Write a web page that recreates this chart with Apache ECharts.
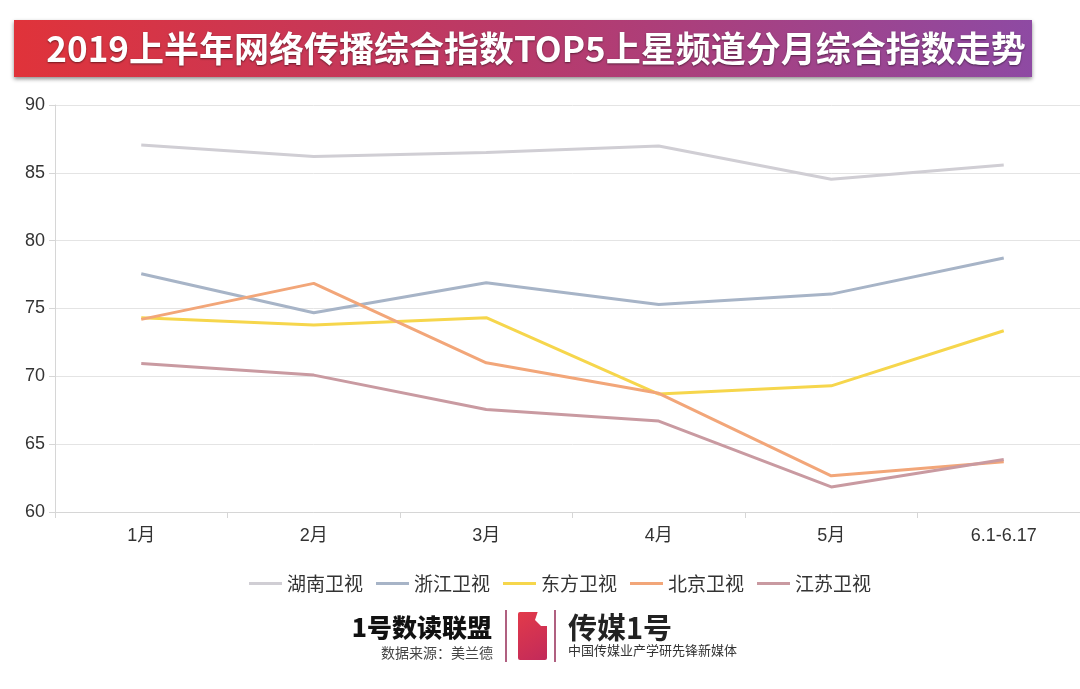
<!DOCTYPE html>
<html><head><meta charset="utf-8">
<script src="https://cdn.jsdelivr.net/npm/echarts@6/dist/echarts.min.js"></script>
<style>html,body{margin:0;padding:0;background:#fff;overflow:hidden;width:1080px;height:689px}#c{width:1100px;height:689px}</style>
</head><body><div id="c"></div>
<script>
const categories = ['1月','2月','3月','4月','5月','6.1-6.17'];
const yTicks = [60,65,70,75,80,85,90];
const hunan    = [87.05, 86.2, 86.5, 86.98, 84.52, 85.58];
const zhejiang = [77.56, 74.69, 76.9, 75.3, 76.06, 78.72];
const dongfang = [74.32, 73.78, 74.32, 68.69, 69.3, 73.36];
const beijing  = [74.2, 76.85, 71.0, 68.75, 62.67, 63.7];
const jiangsu  = [70.95, 70.09, 67.56, 66.7, 61.85, 63.87];
const seriesNames = ['湖南卫视','浙江卫视','东方卫视','北京卫视','江苏卫视'];
const seriesData = [hunan, zhejiang, dongfang, beijing, jiangsu];
const colors = ['#d0ced4','#a7b4c7','#f6d64c','#f2a679','#c99aa1'];

const font = '"Noto Sans CJK SC", "Noto Sans", sans-serif';
const labFont = '"Liberation Sans", "Noto Sans CJK SC", sans-serif';
const chart = echarts.init(document.getElementById('c'));
chart.setOption({
  backgroundColor: '#fff',
  animation: false,
  color: colors,
  textStyle: {fontFamily: font},
  grid: {left: 55, top: 105, right: 10, bottom: 177},
  legend: {
    top: 569, left: 244,
    icon: 'rect', itemWidth: 33, itemHeight: 3, itemGap: 13,
    textStyle: {fontSize: 19, color: '#333', fontFamily: font},
    data: seriesNames
  },
  xAxis: {
    type: 'category', data: categories, boundaryGap: true,
    axisLine: {lineStyle: {color: '#d6d6d6'}},
    axisTick: {show: true, length: 6, lineStyle: {color: '#d6d6d6'}},
    axisLabel: {fontSize: 18, color: '#333', margin: 15, fontFamily: labFont}
  },
  yAxis: {
    type: 'value', min: yTicks[0], max: yTicks[yTicks.length-1], interval: 5,
    axisLine: {show: true, lineStyle: {color: '#d6d6d6'}},
    axisTick: {show: true, length: 6, lineStyle: {color: '#d6d6d6'}},
    axisLabel: {fontSize: 18, color: '#333', margin: 10, fontFamily: labFont},
    splitLine: {lineStyle: {color: '#e4e4e4'}}
  },
  series: seriesNames.map((n, i) => ({
    name: n, type: 'line', data: seriesData[i], symbol: 'none',
    lineStyle: {width: 3, color: colors[i]}, itemStyle: {color: colors[i]}
  })),
  graphic: [
    {type: 'rect', shape: {x: 14, y: 20, width: 1018, height: 57},
     style: {fill: new echarts.graphic.LinearGradient(0,0,1,0,[{offset:0,color:'#e0333a'},{offset:0.5,color:'#b83a6a'},{offset:1,color:'#8e4aa3'}]),
             shadowBlur: 4, shadowOffsetY: 2, shadowColor: 'rgba(0,0,0,0.45)'}},
    {type: 'text', x: 536, y: 49,
     style: {text: '2019上半年网络传播综合指数TOP5上星频道分月综合指数走势', fill: '#fff',
             font: 'bold 35px ' + font, textAlign: 'center', textVerticalAlign: 'middle',
             textShadowColor: 'rgba(0,0,0,0.5)', textShadowBlur: 2, textShadowOffsetY: 1}},
    {type: 'text', x: 492, y: 627,
     style: {text: '1号数读联盟', fill: '#111', font: '900 25px ' + font, textAlign: 'right', textVerticalAlign: 'middle'}},
    {type: 'text', x: 493, y: 653,
     style: {text: '数据来源：美兰德', fill: '#444', font: '14px ' + font, textAlign: 'right', textVerticalAlign: 'middle'}},
    {type: 'rect', shape: {x: 505, y: 610, width: 2, height: 52}, style: {fill: '#b06080'}},
    {type: 'rect', shape: {x: 518, y: 612, width: 29, height: 48, r: 2},
     style: {fill: new echarts.graphic.LinearGradient(0,0,1,1,[{offset:0,color:'#e23a4a'},{offset:1,color:'#c22a5a'}])}},
    {type: 'polygon', shape: {points: [[538,611],[548,611],[548,626],[541,626],[535,620]]}, style: {fill: '#fff'}},
    {type: 'rect', shape: {x: 554, y: 610, width: 2, height: 52}, style: {fill: '#b06080'}},
    {type: 'text', x: 568, y: 628,
     style: {text: '传媒1号', fill: '#222', font: 'bold 29px ' + font, textAlign: 'left', textVerticalAlign: 'middle'}},
    {type: 'text', x: 568, y: 650,
     style: {text: '中国传媒业产学研先锋新媒体', fill: '#333', font: '13px ' + font, textAlign: 'left', textVerticalAlign: 'middle'}}
  ]
});
</script></body></html>
